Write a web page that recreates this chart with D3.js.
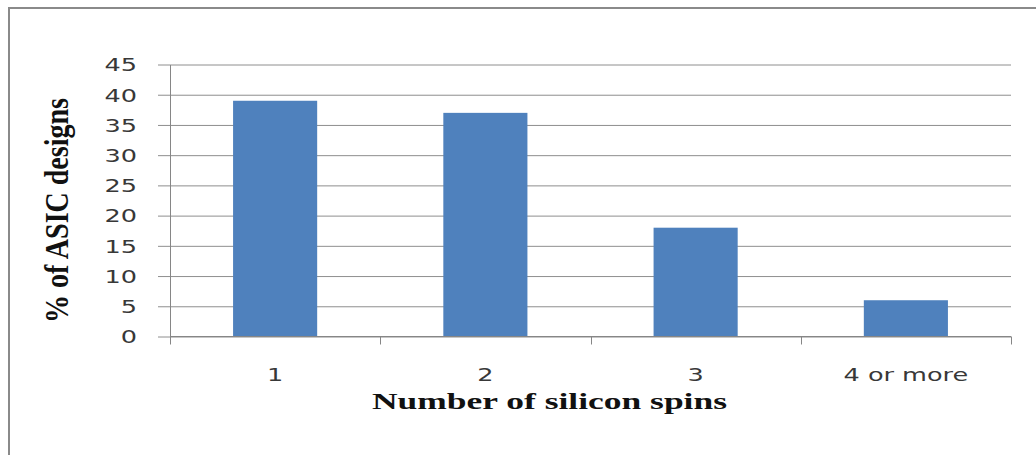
<!DOCTYPE html>
<html>
<head>
<meta charset="utf-8">
<script src="https://cdn.jsdelivr.net/npm/d3@7"></script>
<style>
  html, body { margin: 0; padding: 0; background: #fff; }
  svg { display: block; }
</style>
</head>
<body>
<svg id="chart" width="1036" height="455"></svg>
<script>
// Share of ASIC designs by number of silicon spins
const categories = ["1", "2", "3", "4 or more"];
const values = [39, 37, 18, 6];
const yTicks = [0, 5, 10, 15, 20, 25, 30, 35, 40, 45];
const xTitle = "Number of silicon spins";
const yTitle = "% of ASIC designs";

const svg = d3.select("#chart");
const W = 1036, H = 455;

const plot = { left: 170, right: 1011, top: 64.5, bottom: 336.5 };
const stretch = 1.46;       // horizontal widening of the label glyphs
const gridColor = "#8e8e8e";
const axisColor = "#868686";
const barColor = "#4f81bd";
const labelColor = "#383838";

// Outer frame (runs past the right and bottom edges)
svg.append("rect")
  .attr("x", 9).attr("y", 8)
  .attr("width", W + 50).attr("height", H + 50)
  .attr("fill", "none")
  .attr("stroke", "#8a8a8a")
  .attr("stroke-width", 2);

const x = d3.scaleBand()
  .domain(categories)
  .range([plot.left, plot.right])
  .paddingInner(0.6)
  .paddingOuter(0.3);

const y = d3.scaleLinear()
  .domain([0, 45])
  .range([plot.bottom, plot.top]);

// Horizontal gridlines, starting at the left tick marks
const gridLeft = plot.left - 12;
svg.append("g")
  .attr("transform", `translate(${gridLeft},0)`)
  .call(d3.axisLeft(y).tickValues(yTicks).tickSize(-(plot.right - gridLeft)).tickFormat(""))
  .call(g => g.select(".domain").remove())
  .call(g => g.selectAll("line").attr("stroke", gridColor).attr("stroke-width", 1));

// Bars
svg.append("g")
  .selectAll("rect")
  .data(values)
  .join("rect")
  .attr("x", (d, i) => x(categories[i]))
  .attr("y", d => y(d))
  .attr("width", x.bandwidth())
  .attr("height", d => y(0) - y(d))
  .attr("fill", barColor);

// Y axis: vertical line plus labels
const yAxis = svg.append("g")
  .attr("transform", `translate(${plot.left},0)`)
  .call(d3.axisLeft(y).tickValues(yTicks).tickSize(0).tickPadding(0));
yAxis.select(".domain").attr("stroke", axisColor).attr("stroke-width", 1);
yAxis.selectAll("text")
  .attr("x", -33 / stretch)
  .attr("dy", "0.36em")
  .attr("transform", `scale(${stretch},1)`)
  .attr("font-family", "'DejaVu Sans', sans-serif")
  .attr("font-size", 17.5)
  .attr("fill", labelColor);

// X axis line with tick marks on category boundaries
const step = x.step();
const bounds = categories.map(c => x(c) - step * x.paddingInner() / 2);
bounds.push(plot.right);
const xAxis = svg.append("g");
xAxis.append("line")
  .attr("x1", plot.left).attr("x2", plot.right)
  .attr("y1", y(0)).attr("y2", y(0))
  .attr("stroke", axisColor).attr("stroke-width", 1);
xAxis.selectAll(".bound")
  .data(bounds)
  .join("line")
  .attr("class", "bound")
  .attr("x1", d => Math.round(d) + 0.5).attr("x2", d => Math.round(d) + 0.5)
  .attr("y1", y(0)).attr("y2", y(0) + 8)
  .attr("stroke", axisColor).attr("stroke-width", 1);

// Category labels
svg.append("g")
  .selectAll("text")
  .data(categories)
  .join("text")
  .attr("transform", c => `translate(${x(c) + x.bandwidth() / 2},381) scale(${stretch},1)`)
  .attr("text-anchor", "middle")
  .attr("font-family", "'DejaVu Sans', sans-serif")
  .attr("font-size", 17.5)
  .attr("fill", labelColor)
  .text(c => c);

// Axis titles
svg.append("text")
  .attr("x", 549.5).attr("y", 409)
  .attr("text-anchor", "middle")
  .attr("font-family", "'Liberation Serif', 'Times New Roman', serif")
  .attr("font-weight", "bold")
  .attr("font-size", 23)
  .attr("textLength", 355)
  .attr("lengthAdjust", "spacingAndGlyphs")
  .attr("fill", "#111")
  .text(xTitle);

svg.append("text")
  .attr("transform", "translate(67.5,210.5) scale(1.3,1) rotate(-90)")
  .attr("text-anchor", "middle")
  .attr("font-family", "'Liberation Serif', 'Times New Roman', serif")
  .attr("font-weight", "bold")
  .attr("font-size", 26)
  .attr("textLength", 225)
  .attr("lengthAdjust", "spacingAndGlyphs")
  .attr("fill", "#111")
  .text(yTitle);
</script>
</body>
</html>
